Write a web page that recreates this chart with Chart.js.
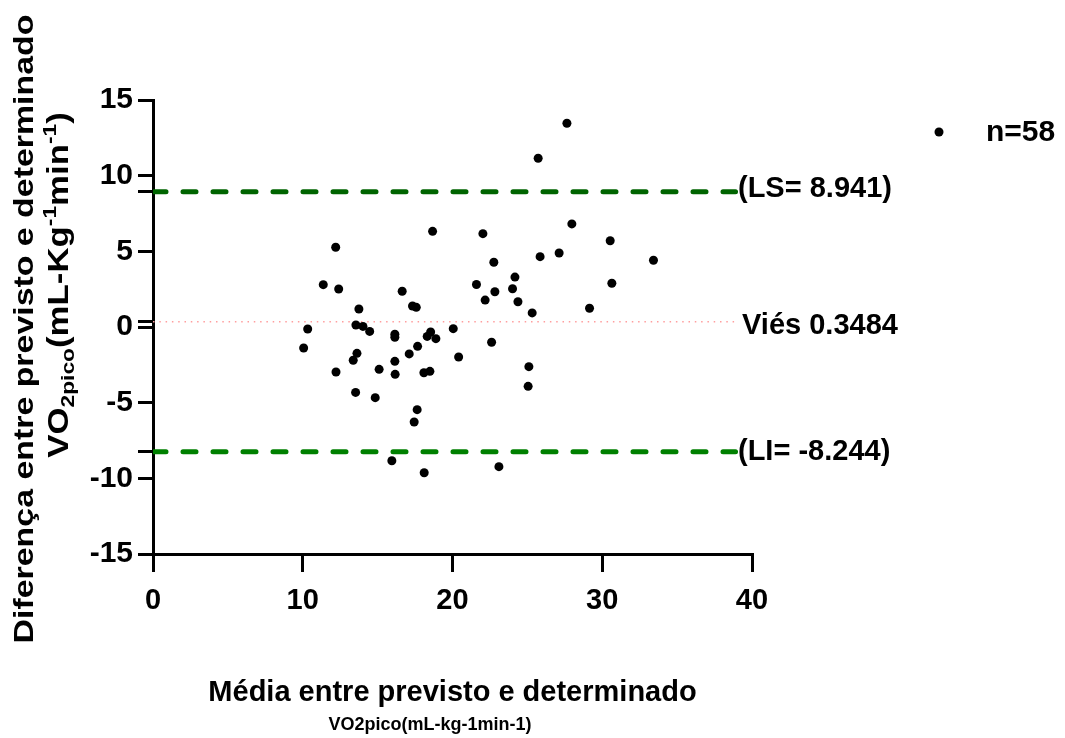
<!DOCTYPE html>
<html>
<head>
<meta charset="utf-8">
<script src="https://cdn.jsdelivr.net/npm/chart.js@4/dist/chart.umd.min.js"></script>
<style>
  html, body { margin: 0; padding: 0; background: #ffffff; }
  #wrap { width: 1065px; height: 738px; }
</style>
</head>
<body>
<div id="wrap"><canvas id="grafico" width="1065" height="738"></canvas></div>
<script>
// Bland-Altman: média (x) e diferença (y) entre VO2pico previsto e determinado
const mediaX = [
  10.06, 10.33, 11.37, 12.20, 12.22, 12.40, 13.37, 13.53, 13.55, 13.62,
  13.75, 14.02, 14.47, 14.84, 15.10, 15.95, 16.15, 16.15, 16.15, 16.17,
  16.64, 17.11, 17.33, 17.44, 17.58, 17.64, 17.67, 18.09, 18.11, 18.31,
  18.49, 18.54, 18.67, 18.89, 20.05, 20.41, 21.60, 22.03, 22.18, 22.61,
  22.76, 22.83, 23.10, 24.01, 24.17, 24.37, 25.05, 25.10, 25.32, 25.72,
  25.85, 27.12, 27.64, 27.97, 29.15, 30.53, 30.64, 33.42
];
const diferencaY = [
  -1.39, -0.13,  2.80,  5.27, -2.97,  2.51, -2.20, -4.32,  0.13, -1.74,
   1.19,  0.04, -0.29, -4.67, -2.80, -8.84, -0.48, -0.68, -2.27, -3.13,
   2.36, -1.78,  1.39, -6.28,  1.30, -5.46, -1.28, -3.02, -9.63, -0.62,
  -2.93, -0.33,  6.32, -0.77, -0.11, -1.98,  2.81,  6.17,  1.78, -1.01,
   4.28,  2.33, -9.23,  2.53,  3.30,  1.67, -3.92, -2.62,  0.93, 11.15,
   4.65,  4.89, 13.46,  6.81,  1.24,  5.70,  2.89,  4.41
];

// Limites de concordância e viés
const limiteSuperior = 8.941;
const vies = 0.3484;
const limiteInferior = -8.244;

// Marcas dos eixos
const xTicks = [0, 10, 20, 30, 40];
const yTicks = [-15, -10, -5, 0, 5, 10, 15];

// Textos
const tituloX1 = 'Média entre previsto e determinado';
const tituloX2 = 'VO2pico(mL-kg-1min-1)';
const tituloY1 = 'Diferença entre previsto e determinado';
const legendaN = 'n=58';

const FONTE = '"Liberation Sans", Arial, Helvetica, sans-serif';
const FIM_LINHA = 38.9; // onde terminam as linhas de referência, antes dos rótulos

Chart.defaults.font.family = FONTE;
Chart.defaults.font.weight = 'bold';
Chart.defaults.color = '#000000';

const pontos = mediaX.map((x, i) => ({ x: x, y: diferencaY[i] }));
const linha = (v) => [{ x: 0, y: v }, { x: FIM_LINHA, y: v }];

// Texto girado (vertical), esticado ao longo da direção do texto
function textoVertical(ctx, partes, cx, baseX, esticar) {
  ctx.save();
  let total = 0;
  partes.forEach(p => {
    ctx.font = 'bold ' + p.size + 'px ' + FONTE;
    p.w = ctx.measureText(p.t).width;
    total += p.w;
  });
  ctx.translate(baseX, cx);
  ctx.rotate(-Math.PI / 2);
  ctx.scale(esticar, 1);
  ctx.textBaseline = 'alphabetic';
  ctx.textAlign = 'left';
  ctx.fillStyle = '#000';
  let x = -total / 2;
  partes.forEach(p => {
    ctx.font = 'bold ' + p.size + 'px ' + FONTE;
    ctx.fillText(p.t, x, p.dy || 0);
    x += p.w;
  });
  ctx.restore();
}

const anotacoes = {
  id: 'anotacoes',
  afterDraw(chart) {
    const ctx = chart.ctx;
    const ys = chart.scales.y;
    const area = chart.chartArea;

    ctx.save();
    ctx.fillStyle = '#000';
    ctx.textAlign = 'left';
    ctx.textBaseline = 'middle';
    ctx.font = 'bold 29px ' + FONTE;
    ctx.fillText('(LS= ' + limiteSuperior + ')', 738, ys.getPixelForValue(limiteSuperior) - 3);
    ctx.fillText('Viés ' + vies, 742, ys.getPixelForValue(vies) + 4);
    ctx.fillText('(LI= ' + limiteInferior + ')', 738, ys.getPixelForValue(limiteInferior));

    // legenda
    ctx.beginPath();
    ctx.arc(939, 132, 4.5, 0, Math.PI * 2);
    ctx.fill();
    ctx.font = 'bold 30px ' + FONTE;
    ctx.fillText(legendaN, 986, 133);

    // título do eixo x
    ctx.textAlign = 'center';
    ctx.textBaseline = 'alphabetic';
    ctx.font = 'bold 29px ' + FONTE;
    ctx.fillText(tituloX1, (area.left + area.right) / 2, 701);
    ctx.font = 'bold 18px ' + FONTE;
    ctx.fillText(tituloX2, 430, 730);
    ctx.restore();

    // título do eixo y
    textoVertical(ctx, [{ t: tituloY1, size: 28 }], 329, 33, 1.21);
    textoVertical(ctx, [
      { t: 'VO', size: 29 },
      { t: '2pico', size: 19, dy: 6 },
      { t: '(mL-Kg', size: 29 },
      { t: '-1', size: 19, dy: -12 },
      { t: 'min', size: 29 },
      { t: '-1', size: 19, dy: -12 },
      { t: ')', size: 29 }
    ], 285, 68, 1.2);
  }
};

new Chart(document.getElementById('grafico'), {
  type: 'scatter',
  data: {
    datasets: [
      {
        label: 'pontos',
        data: pontos,
        backgroundColor: '#000000',
        borderWidth: 0,
        pointRadius: 4.5,
        pointHoverRadius: 4.5,
        order: 0
      },
      {
        label: 'LS',
        data: linha(limiteSuperior),
        showLine: true,
        borderColor: '#006400',
        borderWidth: 5,
        borderDash: [13, 17],
        borderCapStyle: 'round',
        pointRadius: 0,
        order: 1
      },
      {
        label: 'LI',
        data: linha(limiteInferior),
        showLine: true,
        borderColor: '#008000',
        borderWidth: 5,
        borderDash: [13, 17],
        borderCapStyle: 'round',
        pointRadius: 0,
        order: 1
      },
      {
        label: 'viés',
        data: linha(vies),
        showLine: true,
        borderColor: '#ff9e9e',
        borderWidth: 1.5,
        borderDash: [1.5, 4.8],
        pointRadius: 0,
        order: 2
      }
    ]
  },
  options: {
    responsive: false,
    animation: false,
    events: [],
    layout: { padding: { top: 100, right: 313, bottom: 0, left: 0 } },
    plugins: {
      legend: { display: false },
      tooltip: { enabled: false },
      title: { display: false }
    },
    scales: {
      x: {
        type: 'linear',
        min: 0,
        max: 40,
        afterBuildTicks: (s) => { s.ticks = xTicks.map(v => ({ value: v })); },
        afterFit: (s) => { s.height = 184; },
        ticks: {
          autoSkip: false,
          maxRotation: 0,
          padding: 12,
          color: '#000',
          font: { size: 29, weight: 'bold' }
        },
        grid: {
          display: true,
          drawOnChartArea: false,
          drawTicks: true,
          tickLength: 18,
          lineWidth: 3,
          color: '#000'
        },
        border: { display: true, width: 3, color: '#000' }
      },
      y: {
        type: 'linear',
        min: -15,
        max: 15,
        afterBuildTicks: (s) => {
          const todos = yTicks.concat([limiteSuperior, vies, limiteInferior]).sort((a, b) => a - b);
          s.ticks = todos.map(v => ({ value: v }));
        },
        afterFit: (s) => { s.width = 153; },
        ticks: {
          autoSkip: false,
          padding: 5,
          color: '#000',
          font: { size: 30, weight: 'bold' },
          callback: (v) => (yTicks.includes(v) ? String(v) : '')
        },
        grid: {
          display: true,
          drawOnChartArea: false,
          drawTicks: true,
          tickLength: 15,
          lineWidth: 3,
          color: '#000'
        },
        border: { display: true, width: 3, color: '#000' }
      }
    }
  },
  plugins: [anotacoes]
});
</script>
</body>
</html>
